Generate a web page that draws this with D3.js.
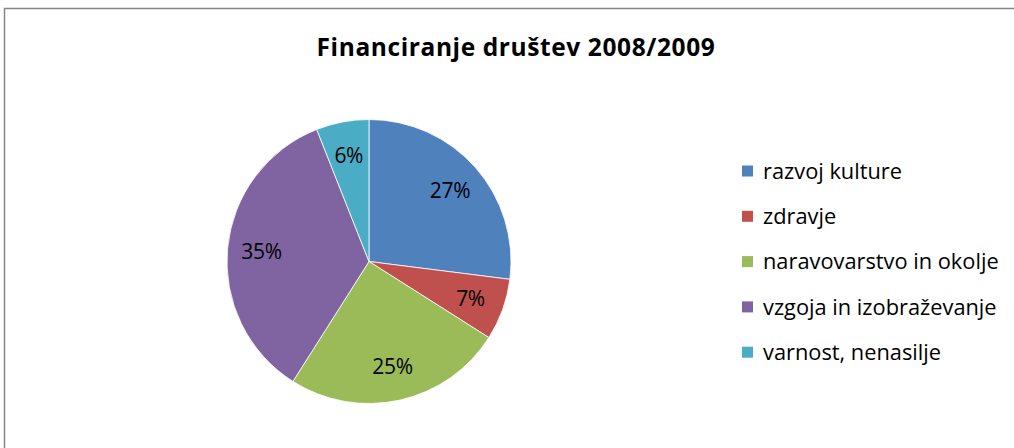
<!DOCTYPE html>
<html>
<head>
<meta charset="utf-8">
<script src="https://cdn.jsdelivr.net/npm/d3@7"></script>
<style>
  body { margin: 0; background: #fff; }
  text { font-family: "Open Sans", sans-serif; }
</style>
</head>
<body>
<div id="chart"></div>
<script>
(() => {
  const width = 1014;
  const height = 448;

  const title = "Financiranje društev 2008/2009";
  const categories = ["razvoj kulture", "zdravje", "naravovarstvo in okolje", "vzgoja in izobraževanje", "varnost, nenasilje"];
  const shares = [27, 7, 25, 35, 6];
  const colors = ["#4F81BD", "#C0504D", "#9BBB59", "#8064A2", "#4BACC6"];

  const data = categories.map((name, i) => ({ name, value: shares[i] }));
  const color = d3.scaleOrdinal().domain(categories).range(colors);

  const svg = d3.select("#chart")
    .append("svg")
    .attr("width", width)
    .attr("height", height);

  // chart frame (right and bottom edges fall outside the picture)
  svg.append("rect")
    .attr("x", 4.5).attr("y", 8.5)
    .attr("width", width + 10).attr("height", height + 10)
    .attr("fill", "#fff")
    .attr("stroke", "#868686")
    .attr("stroke-width", 1.5);

  svg.append("text")
    .attr("x", 516)
    .attr("y", 56)
    .attr("text-anchor", "middle")
    .attr("font-size", 24.5)
    .attr("font-weight", "bold")
    .attr("letter-spacing", 0.6)
    .attr("fill", "#000")
    .text(title);

  const radius = 142;
  const pie = d3.pie().sort(null).value(d => d.value);
  const arc = d3.arc().innerRadius(0).outerRadius(radius);
  const labelArc = d3.arc().innerRadius(radius * 0.76).outerRadius(radius * 0.76);

  const g = svg.append("g").attr("transform", "translate(369,261.5)");
  const arcs = pie(data);

  g.selectAll("path")
    .data(arcs)
    .join("path")
    .attr("d", arc)
    .attr("fill", d => color(d.data.name))
    .attr("stroke", "#fff")
    .attr("stroke-width", 0.8);

  g.selectAll("text")
    .data(arcs)
    .join("text")
    .attr("transform", d => `translate(${labelArc.centroid(d)})`)
    .attr("text-anchor", "middle")
    .attr("dy", "0.36em")
    .attr("font-size", 21)
    .attr("letter-spacing", -0.3)
    .attr("fill", "#000")
    .text(d => d.data.value + "%");

  const legend = svg.append("g").attr("transform", "translate(742,171)");
  const row = legend.selectAll("g")
    .data(categories)
    .join("g")
    .attr("transform", (d, i) => `translate(0,${i * 45.3})`);

  row.append("rect")
    .attr("x", 0).attr("y", -5.5)
    .attr("width", 11).attr("height", 11)
    .attr("fill", d => color(d));

  row.append("text")
    .attr("x", 21)
    .attr("dy", "0.36em")
    .attr("font-size", 21.8)
    .attr("fill", "#000")
    .text(d => d);
})();
</script>
</body>
</html>
